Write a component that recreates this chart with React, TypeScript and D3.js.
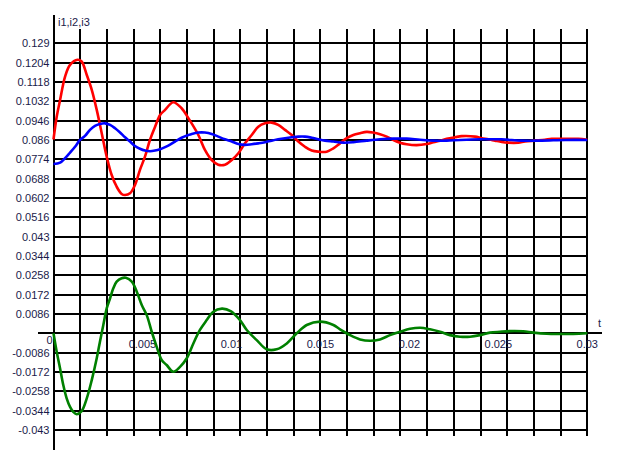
import React from "react";
import * as d3 from "d3";

const W = 621;
const H = 466;

// y tick labels
const yTicks = [0.129, 0.1204, 0.1118, 0.1032, 0.0946, 0.086, 0.0774, 0.0688, 0.0602, 0.0516, 0.043, 0.0344, 0.0258, 0.0172, 0.0086, 0, -0.0086, -0.0172, -0.0258, -0.0344, -0.043];
const yTickLabels = ["0.129", "0.1204", "0.1118", "0.1032", "0.0946", "0.086", "0.0774", "0.0688", "0.0602", "0.0516", "0.043", "0.0344", "0.0258", "0.0172", "0.0086", "", "-0.0086", "-0.0172", "-0.0258", "-0.0344", "-0.043"];
const xTicks = [0.005, 0.01, 0.015, 0.02, 0.025, 0.03];
const xTickLabels = ["0.005", "0.01", "0.015", "0.02", "0.025", "0.03"];
const xGridStep = 0.0015;

// i1 (red)
const i1T = [0, 0.00018, 0.00037, 0.00065, 0.00093, 0.00135, 0.00158, 0.00187, 0.00215, 0.00243, 0.00271, 0.00299, 0.00327, 0.00355, 0.00383, 0.00402, 0.0043, 0.00458, 0.00486, 0.00514, 0.00542, 0.00571, 0.00599, 0.00627, 0.00673, 0.0072, 0.00758, 0.00814, 0.00851, 0.00889, 0.00926, 0.00964, 0.01002, 0.01039, 0.01076, 0.01114, 0.01151, 0.01189, 0.01226, 0.01263, 0.01301, 0.01339, 0.01376, 0.01413, 0.01451, 0.01488, 0.01535, 0.01573, 0.0161, 0.01648, 0.01685, 0.01723, 0.0176, 0.01797, 0.01835, 0.01873, 0.0191, 0.01947, 0.01985, 0.02041, 0.02097, 0.02135, 0.02172, 0.0221, 0.02256, 0.02294, 0.02369, 0.02407, 0.02444, 0.02481, 0.02519, 0.02556, 0.02612, 0.0265, 0.02706, 0.02762, 0.028, 0.02875, 0.0295, 0.03];
const i1V = [0.0862, 0.0963, 0.1038, 0.1142, 0.1194, 0.1217, 0.1209, 0.1149, 0.1083, 0.0994, 0.089, 0.0786, 0.0704, 0.0652, 0.062, 0.0615, 0.0623, 0.066, 0.0727, 0.0786, 0.086, 0.0919, 0.0971, 0.0994, 0.1028, 0.1001, 0.0957, 0.0882, 0.0816, 0.0771, 0.075, 0.075, 0.0771, 0.0801, 0.0845, 0.0882, 0.0919, 0.0934, 0.0937, 0.0927, 0.0905, 0.0882, 0.0853, 0.083, 0.0813, 0.0808, 0.0808, 0.0823, 0.0845, 0.0868, 0.0882, 0.089, 0.0896, 0.0893, 0.0886, 0.0875, 0.086, 0.0848, 0.0841, 0.0837, 0.0842, 0.085, 0.0857, 0.0865, 0.0872, 0.0877, 0.0875, 0.0868, 0.0863, 0.0857, 0.0851, 0.0848, 0.0848, 0.0853, 0.0857, 0.0861, 0.0865, 0.0865, 0.0865, 0.0861];

// i2 (blue)
const i2T = [0, 0.00037, 0.00065, 0.00093, 0.00121, 0.00149, 0.00177, 0.00205, 0.00233, 0.00261, 0.00289, 0.00318, 0.00346, 0.00374, 0.00402, 0.0043, 0.00458, 0.00486, 0.00514, 0.00542, 0.00571, 0.00599, 0.00627, 0.00655, 0.00683, 0.0072, 0.00758, 0.00777, 0.00814, 0.00851, 0.00889, 0.00926, 0.00964, 0.01002, 0.01039, 0.01076, 0.01114, 0.01151, 0.01189, 0.01226, 0.01263, 0.01301, 0.01339, 0.01376, 0.01413, 0.01451, 0.01488, 0.01526, 0.01573, 0.01629, 0.01685, 0.0176, 0.01835, 0.0191, 0.01985, 0.0206, 0.02135, 0.0221, 0.02285, 0.02407, 0.02519, 0.02631, 0.02744, 0.02875, 0.03];
const i2V = [0.0753, 0.0759, 0.0779, 0.0804, 0.083, 0.086, 0.0878, 0.0905, 0.0923, 0.0931, 0.0934, 0.0927, 0.0912, 0.0893, 0.0872, 0.0853, 0.0833, 0.0821, 0.0813, 0.081, 0.0813, 0.0819, 0.0828, 0.0839, 0.0853, 0.087, 0.0882, 0.0887, 0.0893, 0.0893, 0.0887, 0.0875, 0.0863, 0.0853, 0.0842, 0.0838, 0.0841, 0.0845, 0.085, 0.0857, 0.0863, 0.0868, 0.0872, 0.0875, 0.0875, 0.087, 0.0863, 0.0857, 0.0853, 0.0848, 0.085, 0.0857, 0.0863, 0.0866, 0.0866, 0.0861, 0.0857, 0.0857, 0.086, 0.0863, 0.0863, 0.0857, 0.0857, 0.086, 0.086];

// i3 (green)
const i3T = [0, 0.00018, 0.00037, 0.00055, 0.00074, 0.00093, 0.00111, 0.0013, 0.00158, 0.00187, 0.00215, 0.00243, 0.00261, 0.0028, 0.00299, 0.00318, 0.00336, 0.00355, 0.00383, 0.00407, 0.0044, 0.00468, 0.00496, 0.00524, 0.00552, 0.0058, 0.00608, 0.00636, 0.00673, 0.00711, 0.00749, 0.00786, 0.00823, 0.00861, 0.00896, 0.00947, 0.00998, 0.01048, 0.01086, 0.01142, 0.01198, 0.01254, 0.01311, 0.01367, 0.01423, 0.01498, 0.01573, 0.0161, 0.01667, 0.01723, 0.01779, 0.01835, 0.01891, 0.01948, 0.02004, 0.0206, 0.02116, 0.02172, 0.02228, 0.02285, 0.02341, 0.02397, 0.02453, 0.02509, 0.02566, 0.0264, 0.02697, 0.02772, 0.02847, 0.02921, 0.03];
const i3V = [0, -0.0082, -0.0156, -0.023, -0.0289, -0.0327, -0.0349, -0.036, -0.0346, -0.0289, -0.0208, -0.0111, -0.0037, 0.0037, 0.0111, 0.0156, 0.02, 0.023, 0.0245, 0.0247, 0.023, 0.0185, 0.0126, 0.0081, 0.0007, -0.006, -0.0119, -0.0141, -0.0171, -0.0149, -0.0111, -0.0045, 0.0015, 0.0059, 0.0095, 0.011, 0.0098, 0.0059, 0.0015, -0.003, -0.0071, -0.0071, -0.0045, 0, 0.0037, 0.0052, 0.0037, 0.0018, -0.0008, -0.0027, -0.0033, -0.0027, -0.0008, 0.0007, 0.002, 0.0025, 0.0018, 0.0007, -0.0008, -0.0015, -0.0015, -0.0008, 0.0003, 0.0007, 0.001, 0.0009, 0.0003, -0.0002, -0.0003, -0.0003, 0];

const series = [
  { t: i1T, v: i1V, color: "#ff0000" },
  { t: i2T, v: i2V, color: "#0000ff" },
  { t: i3T, v: i3V, color: "#008000" },
];

export default function App() {
  const x = d3.scaleLinear().domain([0, 0.03]).range([53.5, 587.3]);
  const y = d3.scaleLinear().domain([-0.043, 0.129]).range([430, 43.3]);
  const gridTop = 29;
  const gridBottom = 436;
  const vGrid = d3.range(0, 21).map((k) => k * xGridStep);
  const line = d3
    .line<[number, number]>()
    .x((d) => x(d[0]))
    .y((d) => y(d[1]))
    .curve(d3.curveCatmullRom.alpha(0.5));
  const font = "'Liberation Sans', Arial, sans-serif";
  const textColor = "#1a1a4a";
  const px = (v: number) => Math.round(v);
  return (
    <svg
      width={W}
      height={H}
      style={{ position: "absolute", left: 0, top: 0, background: "#fff" }}
      fontFamily={font}
      fontSize={11}
    >
      <rect x={0} y={0} width={W} height={H} fill="#fff" />
      <g shapeRendering="crispEdges">
        {vGrid.map((t, i) => (
          <line key={"v" + i} x1={px(x(t))} x2={px(x(t))} y1={gridTop} y2={gridBottom} stroke="#000" strokeWidth={2} />
        ))}
        {yTicks.map((v, i) => (
          <line key={"h" + i} x1={px(x(0))} x2={px(x(0.03))} y1={px(y(v))} y2={px(y(v))} stroke="#000" strokeWidth={2} />
        ))}
        {/* axes */}
        <line x1={px(x(0))} x2={px(x(0))} y1={15} y2={450} stroke="#000" strokeWidth={2} />
        <line x1={38} x2={602} y1={px(y(0))} y2={px(y(0))} stroke="#000" strokeWidth={2} />
      </g>
      {yTicks.map((v, i) => (
        <text key={"yl" + i} x={49.5} y={y(v) + 4} textAnchor="end" fill={textColor}>
          {yTickLabels[i]}
        </text>
      ))}
      <text x={52.5} y={344} textAnchor="end" fill={textColor}>0</text>
      {xTicks.map((t, i) => (
        <text key={"xl" + i} x={x(t)} y={348} textAnchor="middle" fill={textColor}>
          {xTickLabels[i]}
        </text>
      ))}
      <text x={58} y={25.5} fill={textColor}>i1,i2,i3</text>
      <text x={598} y={327} fill={textColor}>t</text>
      {series.map((s, i) => (
        <path
          key={"s" + i}
          d={line(s.t.map((t, j) => [t, s.v[j]] as [number, number])) || ""}
          fill="none"
          stroke={s.color}
          strokeWidth={2.6}
          strokeLinejoin="round"
        />
      ))}
    </svg>
  );
}
